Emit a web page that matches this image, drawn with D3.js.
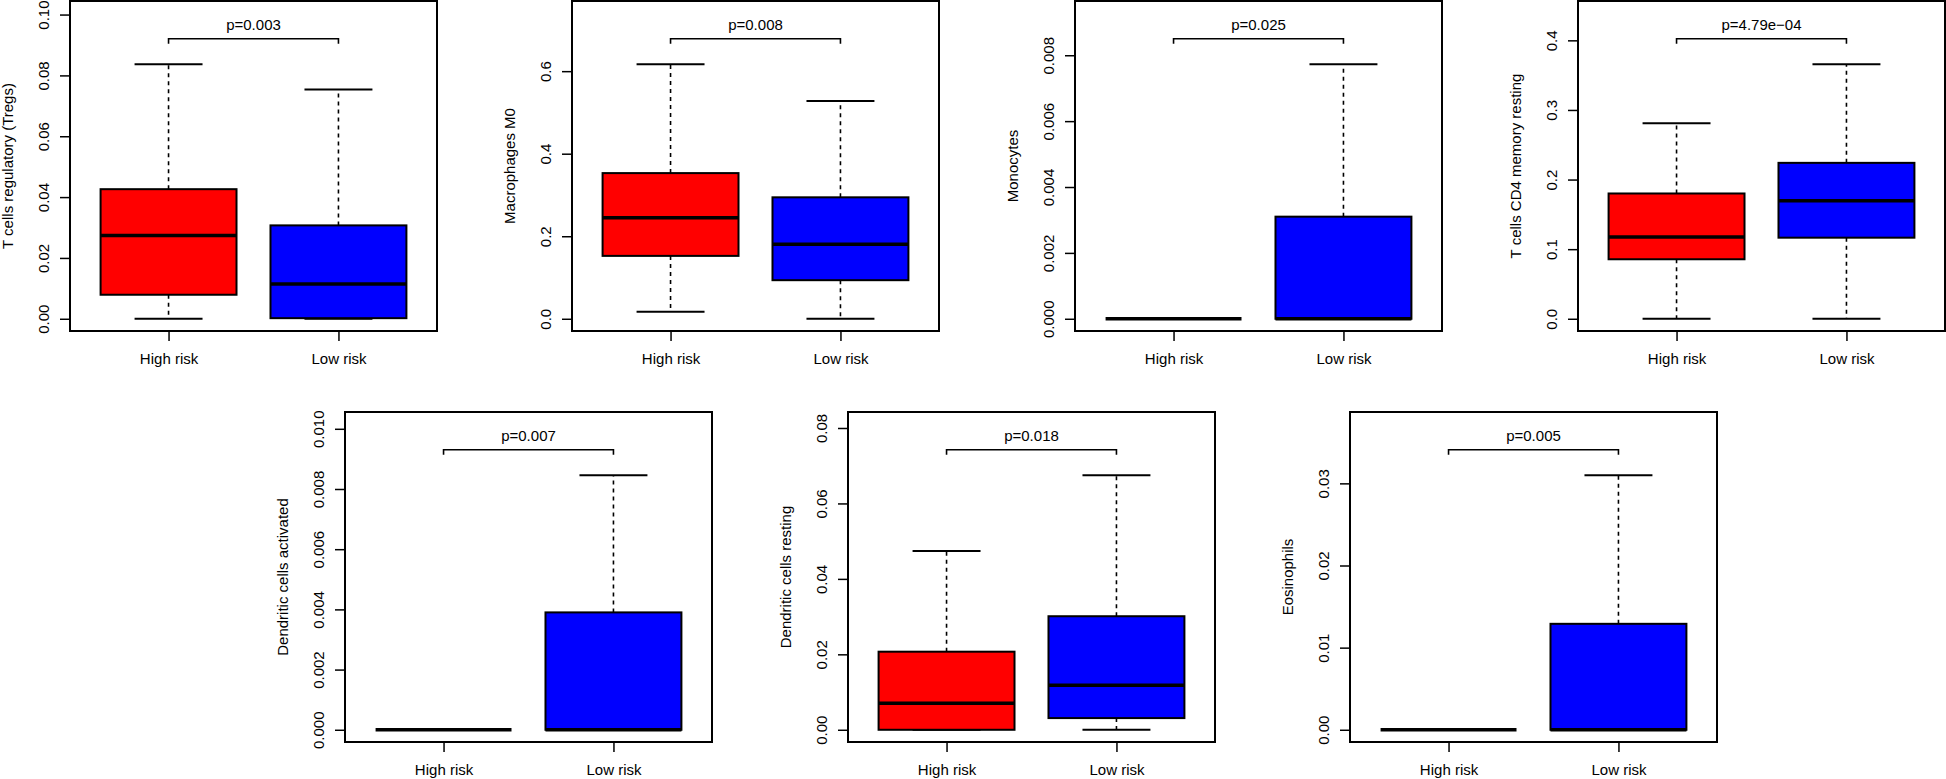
<!DOCTYPE html>
<html>
<head>
<meta charset="utf-8">
<script src="https://cdn.jsdelivr.net/npm/d3@7/dist/d3.min.js"></script>
<style>
  html, body { margin: 0; padding: 0; background: #ffffff; }
  svg { display: block; }
  text { font-family: "Liberation Sans", Arial, Helvetica, sans-serif; fill: #000; }
</style>
</head>
<body>
<svg id="chart" width="1946" height="779"></svg>
<script>
// ---------------- DATA ----------------
const categories = ["High risk", "Low risk"];

const cellTypes = [
  "T cells regulatory (Tregs)",
  "Macrophages M0",
  "Monocytes",
  "T cells CD4 memory resting",
  "Dendritic cells activated",
  "Dendritic cells resting",
  "Eosinophils"
];

const pValues = ["p=0.003", "p=0.008", "p=0.025", "p=4.79e\u221204", "p=0.007", "p=0.018", "p=0.005"];

// five-number summaries: [lower whisker, Q1, median, Q3, upper whisker]
const highRiskStats = [
  [0.0000, 0.0079, 0.0274, 0.0426, 0.0837],
  [0.0169, 0.1524, 0.2450, 0.3530, 0.6170],
  [0.0000, 0.0000, 0.0000, 0.0000, 0.0000],
  [0.0000, 0.0855, 0.1175, 0.1800, 0.2808],
  [0.0000, 0.0000, 0.0000, 0.0000, 0.0000],
  [0.0000, 0.0000, 0.0070, 0.0207, 0.0474],
  [0.0000, 0.0000, 0.0000, 0.0000, 0.0000]
];

const lowRiskStats = [
  [0.0000, 0.0002, 0.0114, 0.0307, 0.0754],
  [0.0000, 0.0935, 0.1806, 0.2943, 0.5280],
  [0.0000, 0.0000, 0.0000, 0.0031, 0.00773],
  [0.0000, 0.1165, 0.1695, 0.2240, 0.3658],
  [0.0000, 0.0000, 0.0000, 0.0039, 0.00846],
  [0.0000, 0.0031, 0.0118, 0.0301, 0.0675],
  [0.0000, 0.0000, 0.0000, 0.0129, 0.0310]
];

const yTickValues = [
  [0, 0.02, 0.04, 0.06, 0.08, 0.10],
  [0, 0.2, 0.4, 0.6],
  [0, 0.002, 0.004, 0.006, 0.008],
  [0, 0.1, 0.2, 0.3, 0.4],
  [0, 0.002, 0.004, 0.006, 0.008, 0.010],
  [0, 0.02, 0.04, 0.06, 0.08],
  [0, 0.01, 0.02, 0.03]
];

// ---------------- LAYOUT ----------------
const panelLeft = [70, 572, 1075, 1578, 345, 848, 1350];
const panelTop  = [1, 1, 1, 1, 412, 412, 412];
const PW = 367, PH = 330;
const colors = ["#FF0000", "#0000FF"];
const FS = 15;

const svg = d3.select("#chart");

cellTypes.forEach((name, i) => {
  const left = panelLeft[i], top = panelTop[i];
  const stats = [highRiskStats[i], lowRiskStats[i]];
  const dataMax = d3.max(stats, s => s[4]);
  const ymax = dataMax * 1.2;
  const pad = 0.04 * ymax;

  const x = d3.scaleLinear().domain([0.42, 2.58]).range([left, left + PW]);
  const y = d3.scaleLinear().domain([-pad, ymax + pad]).range([top + PH, top]);

  const g = svg.append("g");

  // boxes
  stats.forEach((s, j) => {
    const cx = x(j + 1);
    const bw = x(j + 1 + 0.4) - cx;   // half box width
    const sw = x(j + 1 + 0.2) - cx;   // half staple width
    const [lo, q1, med, q3, hi] = s;

    // whiskers (dashed)
    if (hi > q3) {
      g.append("line").attr("x1", cx).attr("x2", cx).attr("y1", y(q3)).attr("y2", y(hi))
        .attr("stroke", "#000").attr("stroke-width", 1.6).attr("stroke-dasharray", "4,4");
    }
    if (q1 > lo) {
      g.append("line").attr("x1", cx).attr("x2", cx).attr("y1", y(q1)).attr("y2", y(lo))
        .attr("stroke", "#000").attr("stroke-width", 1.6).attr("stroke-dasharray", "4,4");
    }
    // staples
    [lo, hi].forEach(v => {
      g.append("line").attr("x1", cx - sw).attr("x2", cx + sw).attr("y1", y(v)).attr("y2", y(v))
        .attr("stroke", "#000").attr("stroke-width", 2);
    });
    // box
    g.append("rect").attr("x", cx - bw).attr("y", y(q3))
      .attr("width", 2 * bw).attr("height", Math.max(0, y(q1) - y(q3)))
      .attr("fill", colors[j]).attr("stroke", "#000").attr("stroke-width", 2);
    // median
    g.append("line").attr("x1", cx - bw).attr("x2", cx + bw).attr("y1", y(med)).attr("y2", y(med))
      .attr("stroke", "#000").attr("stroke-width", 3.5);
  });

  // frame
  g.append("rect").attr("x", left).attr("y", top).attr("width", PW).attr("height", PH)
    .attr("fill", "none").attr("stroke", "#000").attr("stroke-width", 2);

  // y axis
  const ticks = yTickValues[i];
  const step = ticks[1] - ticks[0];
  const fmt = d3.format("." + d3.precisionFixed(step) + "f");
  const yAxis = d3.axisLeft(y).tickValues(ticks).tickFormat(fmt).tickSize(10).tickSizeOuter(0);
  const ya = g.append("g").attr("transform", `translate(${left},0)`).call(yAxis);
  ya.select(".domain").remove();
  ya.selectAll(".tick line").attr("stroke", "#000").attr("stroke-width", 1.5);
  ya.selectAll(".tick text")
    .attr("x", 0).attr("dy", null)
    .attr("transform", "translate(-27,0) rotate(-90)")
    .attr("text-anchor", "middle").attr("dominant-baseline", "central")
    .style("font-size", FS + "px").style("font-family", "'Liberation Sans', Arial, sans-serif");

  // x axis
  const xAxis = d3.axisBottom(x).tickValues([1, 2]).tickFormat((d) => categories[d - 1]).tickSize(10).tickSizeOuter(0);
  const xa = g.append("g").attr("transform", `translate(0,${top + PH})`).call(xAxis);
  xa.select(".domain").remove();
  xa.selectAll(".tick line").attr("stroke", "#000").attr("stroke-width", 1.5);
  xa.selectAll(".tick text").attr("y", 28).attr("dy", "0.35em")
    .style("font-size", FS + "px").style("font-family", "'Liberation Sans', Arial, sans-serif");

  // y label
  g.append("text")
    .attr("transform", `translate(${left - 63},${top + PH / 2}) rotate(-90)`)
    .attr("text-anchor", "middle").attr("dominant-baseline", "central")
    .style("font-size", FS + "px")
    .text(name);

  // significance bracket
  const by = y(dataMax * 1.1), bt = y(dataMax * 1.08);
  g.append("path")
    .attr("d", `M${x(1)},${bt}L${x(1)},${by}L${x(2)},${by}L${x(2)},${bt}`)
    .attr("fill", "none").attr("stroke", "#000").attr("stroke-width", 1.6);
  g.append("text")
    .attr("x", (x(1) + x(2)) / 2).attr("y", y(dataMax * 1.155)).attr("dy", "0.35em")
    .attr("text-anchor", "middle").style("font-size", FS + "px")
    .text(pValues[i]);
});
</script>
</body>
</html>
